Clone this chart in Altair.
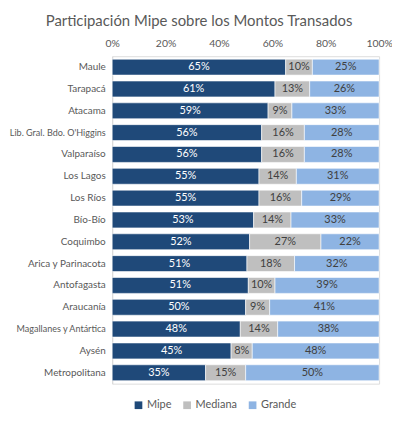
import altair as alt
import pandas as pd

regions = ["Maule", "Tarapacá", "Atacama", "Lib. Gral. Bdo. O'Higgins", "Valparaíso",
           "Los Lagos", "Los Ríos", "Bío-Bío", "Coquimbo", "Arica y Parinacota",
           "Antofagasta", "Araucanía", "Magallanes y Antártica", "Aysén", "Metropolitana"]
mipe = [65, 61, 59, 56, 56, 55, 55, 53, 52, 51, 51, 50, 48, 45, 35]
mediana = [10, 13, 9, 16, 16, 14, 16, 14, 27, 18, 10, 9, 14, 8, 15]
grande = [25, 26, 33, 28, 28, 31, 29, 33, 22, 32, 39, 41, 38, 48, 50]
series = ["Mipe", "Mediana", "Grande"]
colors = ["#1F4979", "#BFBFBF", "#8EB4E3"]
text_colors = ["#FFFFFF", "#404040", "#404040"]

rows = []
for i, r in enumerate(regions):
    for k, (s, vals) in enumerate(zip(series, [mipe, mediana, grande])):
        rows.append({"region": r, "serie": s, "value": vals[i], "order": k,
                     "label": f"{vals[i]}%", "tcolor": text_colors[k]})
df = pd.DataFrame(rows)

font = "Lato"

base = alt.Chart(df).transform_stack(
    stack="value", groupby=["region"], as_=["x0", "x1"], offset="normalize",
    sort=[alt.SortField("order", order="ascending")]
).transform_calculate(mid="(datum.x0 + datum.x1) / 2")

long_test = "length(datum.label) > 20"

y_enc = alt.Y("region:N", sort=regions, title=None,
              scale=alt.Scale(paddingInner=0.27, paddingOuter=0.135),
              axis=alt.Axis(labelColor="#595959",
                            labelFontSize={"condition": {"test": long_test, "value": 9.1},
                                           "value": 10},
                            labelFont=font,
                            ticks=False, domainColor="#D9D9D9", labelPadding=7,
                            labelLimit=200))

bars = base.mark_bar(stroke="white", strokeWidth=0.6).encode(
    x=alt.X("x0:Q", title=None, scale=alt.Scale(domain=[0, 1]),
            axis=alt.Axis(orient="top", format=".0%", values=[0, 0.2, 0.4, 0.6, 0.8, 1.0],
                          labelColor="#595959", labelFontSize=10.5, labelFont=font,
                          ticks=False, domain=False, grid=False, labelPadding=8,
                          labelFlush=False, labelOverlap=False)),
    x2="x1:Q",
    y=y_enc,
    color=alt.Color("serie:N", scale=alt.Scale(domain=series, range=colors),
                    legend=alt.Legend(title=None, orient="none", direction="horizontal",
                                      legendX=21, legendY=346, symbolType="square",
                                      symbolSize=60, symbolStrokeWidth=0,
                                      labelFontSize=11, labelColor="#595959",
                                      labelFont=font, columnPadding=10,
                                      symbolOffset=0, labelOffset=3)),
    order=alt.Order("order:Q"),
)

texts = base.mark_text(fontSize=11, font=font).encode(
    x=alt.X("mid:Q"),
    y=alt.Y("region:N", sort=regions),
    text="label:N",
    color=alt.Color("tcolor:N", scale=None, legend=None),
)

chart = alt.layer(bars, texts).properties(
    width=269, height=330,
    autosize=alt.AutoSizeParams(type="none"),
    padding={"left": 105, "top": 47, "right": 13, "bottom": 30},
    title=alt.TitleParams("Participación Mipe sobre los Montos Transados",
                          fontSize=15, font=font, fontWeight="normal", color="#595959",
                          anchor="middle", dx=-47, offset=9),
).configure_view(stroke=None).configure(background="white")

chart.save("out.html", embed_options={"renderer": "svg", "actions": False})
